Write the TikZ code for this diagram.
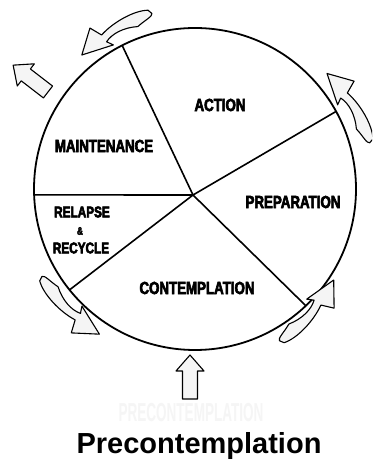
\documentclass[tikz,border=0pt]{standalone}
\usepackage{fontspec}
\setmainfont{Liberation Sans}
\newfontfamily\stagefont[FakeStretch=0.76,FakeBold=3.5]{Liberation Sans}
\newfontfamily\ghostfont[FakeStretch=0.52]{Liberation Sans}

\tikzset{
  stagearrow/.style={draw=black,fill=black!4,line width=1.1pt,line join=round},
  stagelabel/.style={font=\stagefont\bfseries\fontsize{17.5}{17.5}\selectfont,inner sep=0pt},
  smalllabel/.style={font=\stagefont\bfseries\fontsize{15.5}{15.5}\selectfont,inner sep=0pt},
}

% curved block arrow, drawn round its own centre (0,0)
\newcommand{\cyclearrow}{%
  \draw[stagearrow] (102.5:136) .. controls (108:139.5) and (118:137) .. (125.1:132)
    -- (127.3:144.5) -- (137.4:130) -- (123.2:117.2) -- (125:123.6)
    .. controls (121:127.5) and (115:127.5) .. (108.8:123)
    .. controls (105:127) and (101:129) .. (101.2:132) -- cycle;}
% straight block arrow, tail at (0,0), pointing along +x
\newcommand{\blockarrow}{%
  \draw[stagearrow] (0,-7.5) -- (28,-7.5) -- (28,-14) -- (44,0)
    -- (28,14) -- (28,7.5) -- (0,7.5) -- cycle;}

\begin{document}
\begin{tikzpicture}[x=1pt,y=1pt]
  \def\R{161}
  \path[fill=white,use as bounding box] (0,0) rectangle (372,462);
  \clip (0,0) rectangle (372,462);

  \coordinate (C) at (195,273);
  \coordinate (hub) at (193,267);

  % ================= wheel =================
  \foreach \a/\n in {116.9/top,28.8/right,182.1/left,218.8/lowleft,313.5/lowright}
    \path (C) ++(\a:\R) coordinate (rim-\n);
  \draw[line width=1.8pt] (C) circle[radius=\R];
  \foreach \n in {top,right,left,lowleft,lowright}
    \draw[line width=1.6pt] (hub) -- (rim-\n);

  % stage names
  \node[stagelabel] (action) at (220,357) {ACTION};
  \node[stagelabel] (maint) at (104,316) {MAINTENANCE};
  \node[stagelabel] (prep) at (293,260) {PREPARATION};
  \node[smalllabel] (relapse) at (82,250) {RELAPSE};
  \node[font=\stagefont\bfseries\fontsize{11}{11}\selectfont,inner sep=0pt] (amp) at (80,231) {\&};
  \node[smalllabel] (recycle) at (81,214) {RECYCLE};
  \node[stagelabel] (contem) at (197,174) {CONTEMPLATION};

  % ================= arrows round the wheel =================
  \begin{scope}[shift={(177.5,319)}]
    \cyclearrow
  \end{scope}
  \begin{scope}[rotate around={-89:(C)},shift={(177.5,319)}]
    \cyclearrow
  \end{scope}
  \begin{scope}[shift={(-4.1,-5.7)},rotate around={104.2:(C)},shift={(177.5,319)}]
    \cyclearrow
  \end{scope}
  \begin{scope}[shift={(8.5,-5.3)},rotate around={-162.4:(C)},shift={(177.5,319)}]
    \cyclearrow
  \end{scope}

  % exit and entry arrows
  \begin{scope}[shift={(48,370)},rotate=142.4]
    \blockarrow
  \end{scope}
  \begin{scope}[shift={(190,63)},rotate=90]
    \blockarrow
  \end{scope}

  % bottom texts
  \node[font=\ghostfont\bfseries\fontsize{26}{26}\selectfont,text=black!4,inner sep=0pt] (ghost) at (191,49) {PRECONTEMPLATION};
  \node[font=\bfseries\fontsize{29}{29}\selectfont,anchor=base,inner sep=0pt] (precon) at (199,9) {Precontemplation};
\end{tikzpicture}
\end{document}
